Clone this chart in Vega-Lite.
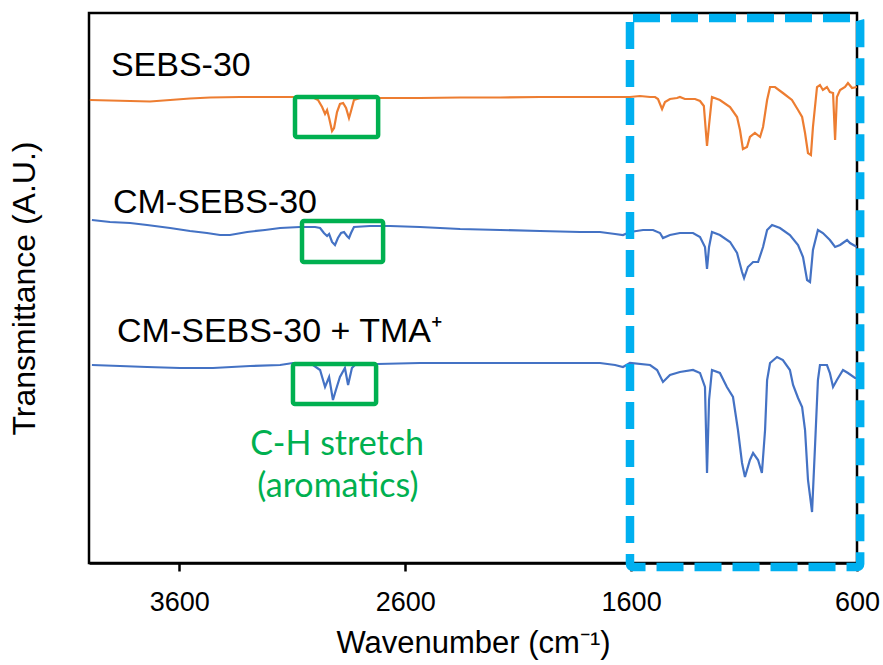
{
 "$schema": "https://vega.github.io/schema/vega-lite/v6.json",
 "width": 768, "height": 550,
 "autosize": {"type": "none"},
 "padding": {"left": 89, "top": 13, "right": 26, "bottom": 102},
 "background": "white",
 "config": {"view": {"stroke": "black", "strokeWidth": 2.5}, "font": "Liberation Sans"},
 "datasets": {
  "spectra": [
   {"s":"SEBS-30","wn":3996,"t":463},{"s":"SEBS-30","wn":3907,"t":462.5},{"s":"SEBS-30","wn":3818,"t":462},{"s":"SEBS-30","wn":3730,"t":461.5},{"s":"SEBS-30","wn":3641,"t":463},{"s":"SEBS-30","wn":3553,"t":464.5},{"s":"SEBS-30","wn":3464,"t":465.5},{"s":"SEBS-30","wn":3331,"t":466},{"s":"SEBS-30","wn":3199,"t":466},{"s":"SEBS-30","wn":3066,"t":466},{"s":"SEBS-30","wn":3008,"t":465.5},{"s":"SEBS-30","wn":2986,"t":463},{"s":"SEBS-30","wn":2968,"t":456},{"s":"SEBS-30","wn":2955,"t":449},{"s":"SEBS-30","wn":2946,"t":453},{"s":"SEBS-30","wn":2937,"t":445},{"s":"SEBS-30","wn":2924,"t":432},{"s":"SEBS-30","wn":2915,"t":435},{"s":"SEBS-30","wn":2902,"t":451},{"s":"SEBS-30","wn":2889,"t":459},{"s":"SEBS-30","wn":2875,"t":460},{"s":"SEBS-30","wn":2862,"t":455},{"s":"SEBS-30","wn":2849,"t":445},{"s":"SEBS-30","wn":2840,"t":452},{"s":"SEBS-30","wn":2827,"t":463},{"s":"SEBS-30","wn":2800,"t":465},{"s":"SEBS-30","wn":2712,"t":465},{"s":"SEBS-30","wn":2535,"t":465},{"s":"SEBS-30","wn":2357,"t":465.5},{"s":"SEBS-30","wn":2180,"t":465.5},{"s":"SEBS-30","wn":2003,"t":466},{"s":"SEBS-30","wn":1826,"t":466},{"s":"SEBS-30","wn":1693,"t":466},{"s":"SEBS-30","wn":1605,"t":466},{"s":"SEBS-30","wn":1561,"t":467},{"s":"SEBS-30","wn":1516,"t":466},{"s":"SEBS-30","wn":1494,"t":466},{"s":"SEBS-30","wn":1481,"t":464},{"s":"SEBS-30","wn":1463,"t":454},{"s":"SEBS-30","wn":1450,"t":461},{"s":"SEBS-30","wn":1428,"t":464},{"s":"SEBS-30","wn":1397,"t":465},{"s":"SEBS-30","wn":1384,"t":466},{"s":"SEBS-30","wn":1362,"t":464},{"s":"SEBS-30","wn":1317,"t":464},{"s":"SEBS-30","wn":1295,"t":462},{"s":"SEBS-30","wn":1278,"t":457},{"s":"SEBS-30","wn":1264,"t":417},{"s":"SEBS-30","wn":1255,"t":438},{"s":"SEBS-30","wn":1242,"t":466},{"s":"SEBS-30","wn":1207,"t":463},{"s":"SEBS-30","wn":1162,"t":456},{"s":"SEBS-30","wn":1131,"t":446},{"s":"SEBS-30","wn":1118,"t":433},{"s":"SEBS-30","wn":1105,"t":414},{"s":"SEBS-30","wn":1087,"t":416},{"s":"SEBS-30","wn":1074,"t":426},{"s":"SEBS-30","wn":1052,"t":430},{"s":"SEBS-30","wn":1029,"t":426},{"s":"SEBS-30","wn":1016,"t":436},{"s":"SEBS-30","wn":998,"t":463},{"s":"SEBS-30","wn":985,"t":476},{"s":"SEBS-30","wn":963,"t":476},{"s":"SEBS-30","wn":928,"t":470},{"s":"SEBS-30","wn":888,"t":463},{"s":"SEBS-30","wn":861,"t":453},{"s":"SEBS-30","wn":843,"t":446},{"s":"SEBS-30","wn":830,"t":430},{"s":"SEBS-30","wn":817,"t":410},{"s":"SEBS-30","wn":804,"t":408},{"s":"SEBS-30","wn":795,"t":436},{"s":"SEBS-30","wn":777,"t":476},{"s":"SEBS-30","wn":764,"t":478},{"s":"SEBS-30","wn":751,"t":473},{"s":"SEBS-30","wn":733,"t":476},{"s":"SEBS-30","wn":720,"t":471},{"s":"SEBS-30","wn":706,"t":470},{"s":"SEBS-30","wn":697,"t":423},{"s":"SEBS-30","wn":689,"t":466},{"s":"SEBS-30","wn":675,"t":473},{"s":"SEBS-30","wn":653,"t":476},{"s":"SEBS-30","wn":640,"t":480},{"s":"SEBS-30","wn":622,"t":475},{"s":"SEBS-30","wn":600,"t":476},
   {"s":"CM-SEBS-30","wn":3987,"t":343},{"s":"CM-SEBS-30","wn":3907,"t":341},{"s":"CM-SEBS-30","wn":3818,"t":340},{"s":"CM-SEBS-30","wn":3743,"t":338},{"s":"CM-SEBS-30","wn":3641,"t":335},{"s":"CM-SEBS-30","wn":3553,"t":332},{"s":"CM-SEBS-30","wn":3478,"t":330},{"s":"CM-SEBS-30","wn":3420,"t":328},{"s":"CM-SEBS-30","wn":3376,"t":328},{"s":"CM-SEBS-30","wn":3300,"t":331},{"s":"CM-SEBS-30","wn":3221,"t":333},{"s":"CM-SEBS-30","wn":3154,"t":335},{"s":"CM-SEBS-30","wn":3066,"t":336},{"s":"CM-SEBS-30","wn":2999,"t":336},{"s":"CM-SEBS-30","wn":2977,"t":335},{"s":"CM-SEBS-30","wn":2960,"t":330},{"s":"CM-SEBS-30","wn":2946,"t":327},{"s":"CM-SEBS-30","wn":2937,"t":329},{"s":"CM-SEBS-30","wn":2924,"t":321},{"s":"CM-SEBS-30","wn":2911,"t":318},{"s":"CM-SEBS-30","wn":2898,"t":325},{"s":"CM-SEBS-30","wn":2884,"t":330},{"s":"CM-SEBS-30","wn":2871,"t":331},{"s":"CM-SEBS-30","wn":2858,"t":327},{"s":"CM-SEBS-30","wn":2849,"t":325},{"s":"CM-SEBS-30","wn":2840,"t":330},{"s":"CM-SEBS-30","wn":2827,"t":336},{"s":"CM-SEBS-30","wn":2756,"t":337},{"s":"CM-SEBS-30","wn":2667,"t":337},{"s":"CM-SEBS-30","wn":2535,"t":336},{"s":"CM-SEBS-30","wn":2357,"t":334},{"s":"CM-SEBS-30","wn":2180,"t":333},{"s":"CM-SEBS-30","wn":2003,"t":332},{"s":"CM-SEBS-30","wn":1826,"t":331},{"s":"CM-SEBS-30","wn":1738,"t":331},{"s":"CM-SEBS-30","wn":1671,"t":329},{"s":"CM-SEBS-30","wn":1636,"t":328},{"s":"CM-SEBS-30","wn":1605,"t":331},{"s":"CM-SEBS-30","wn":1547,"t":333},{"s":"CM-SEBS-30","wn":1503,"t":333},{"s":"CM-SEBS-30","wn":1472,"t":330},{"s":"CM-SEBS-30","wn":1459,"t":325},{"s":"CM-SEBS-30","wn":1428,"t":328},{"s":"CM-SEBS-30","wn":1384,"t":330},{"s":"CM-SEBS-30","wn":1326,"t":330},{"s":"CM-SEBS-30","wn":1295,"t":326},{"s":"CM-SEBS-30","wn":1273,"t":316},{"s":"CM-SEBS-30","wn":1264,"t":294},{"s":"CM-SEBS-30","wn":1255,"t":316},{"s":"CM-SEBS-30","wn":1242,"t":331},{"s":"CM-SEBS-30","wn":1207,"t":328},{"s":"CM-SEBS-30","wn":1162,"t":321},{"s":"CM-SEBS-30","wn":1131,"t":310},{"s":"CM-SEBS-30","wn":1109,"t":291},{"s":"CM-SEBS-30","wn":1100,"t":285},{"s":"CM-SEBS-30","wn":1083,"t":296},{"s":"CM-SEBS-30","wn":1060,"t":301},{"s":"CM-SEBS-30","wn":1038,"t":301},{"s":"CM-SEBS-30","wn":1016,"t":316},{"s":"CM-SEBS-30","wn":998,"t":333},{"s":"CM-SEBS-30","wn":976,"t":338},{"s":"CM-SEBS-30","wn":941,"t":335},{"s":"CM-SEBS-30","wn":897,"t":328},{"s":"CM-SEBS-30","wn":861,"t":318},{"s":"CM-SEBS-30","wn":839,"t":306},{"s":"CM-SEBS-30","wn":821,"t":283},{"s":"CM-SEBS-30","wn":808,"t":281},{"s":"CM-SEBS-30","wn":795,"t":313},{"s":"CM-SEBS-30","wn":773,"t":333},{"s":"CM-SEBS-30","wn":751,"t":330},{"s":"CM-SEBS-30","wn":720,"t":323},{"s":"CM-SEBS-30","wn":697,"t":316},{"s":"CM-SEBS-30","wn":675,"t":318},{"s":"CM-SEBS-30","wn":644,"t":323},{"s":"CM-SEBS-30","wn":631,"t":320},{"s":"CM-SEBS-30","wn":600,"t":316},
   {"s":"TMA","wn":3987,"t":198},{"s":"TMA","wn":3863,"t":197},{"s":"TMA","wn":3743,"t":196},{"s":"TMA","wn":3597,"t":195},{"s":"TMA","wn":3451,"t":195},{"s":"TMA","wn":3287,"t":197},{"s":"TMA","wn":3154,"t":198},{"s":"TMA","wn":3097,"t":200},{"s":"TMA","wn":3008,"t":198},{"s":"TMA","wn":2977,"t":193},{"s":"TMA","wn":2955,"t":176},{"s":"TMA","wn":2937,"t":186},{"s":"TMA","wn":2920,"t":163},{"s":"TMA","wn":2907,"t":173},{"s":"TMA","wn":2889,"t":186},{"s":"TMA","wn":2867,"t":195},{"s":"TMA","wn":2853,"t":178},{"s":"TMA","wn":2836,"t":195},{"s":"TMA","wn":2814,"t":200},{"s":"TMA","wn":2725,"t":199},{"s":"TMA","wn":2535,"t":200},{"s":"TMA","wn":2269,"t":200},{"s":"TMA","wn":2003,"t":200},{"s":"TMA","wn":1738,"t":200},{"s":"TMA","wn":1671,"t":198},{"s":"TMA","wn":1636,"t":196},{"s":"TMA","wn":1605,"t":200},{"s":"TMA","wn":1516,"t":198},{"s":"TMA","wn":1485,"t":193},{"s":"TMA","wn":1459,"t":181},{"s":"TMA","wn":1428,"t":188},{"s":"TMA","wn":1384,"t":191},{"s":"TMA","wn":1326,"t":193},{"s":"TMA","wn":1295,"t":190},{"s":"TMA","wn":1273,"t":176},{"s":"TMA","wn":1264,"t":90},{"s":"TMA","wn":1255,"t":163},{"s":"TMA","wn":1242,"t":193},{"s":"TMA","wn":1207,"t":190},{"s":"TMA","wn":1176,"t":176},{"s":"TMA","wn":1149,"t":166},{"s":"TMA","wn":1127,"t":133},{"s":"TMA","wn":1109,"t":100},{"s":"TMA","wn":1096,"t":86},{"s":"TMA","wn":1074,"t":103},{"s":"TMA","wn":1060,"t":110},{"s":"TMA","wn":1038,"t":103},{"s":"TMA","wn":1021,"t":90},{"s":"TMA","wn":1007,"t":133},{"s":"TMA","wn":998,"t":183},{"s":"TMA","wn":985,"t":200},{"s":"TMA","wn":954,"t":206},{"s":"TMA","wn":928,"t":203},{"s":"TMA","wn":897,"t":193},{"s":"TMA","wn":883,"t":178},{"s":"TMA","wn":861,"t":165},{"s":"TMA","wn":843,"t":156},{"s":"TMA","wn":830,"t":133},{"s":"TMA","wn":817,"t":83},{"s":"TMA","wn":799,"t":51},{"s":"TMA","wn":786,"t":116},{"s":"TMA","wn":773,"t":183},{"s":"TMA","wn":764,"t":198},{"s":"TMA","wn":733,"t":198},{"s":"TMA","wn":720,"t":190},{"s":"TMA","wn":706,"t":176},{"s":"TMA","wn":689,"t":183},{"s":"TMA","wn":662,"t":193},{"s":"TMA","wn":640,"t":190},{"s":"TMA","wn":609,"t":185},{"s":"TMA","wn":600,"t":185}
  ],
  "boxes": [
   {"x1":3088,"x2":2720,"y1":466,"y2":426},
   {"x1":3057,"x2":2698,"y1":342,"y2":301},
   {"x1":3097,"x2":2729,"y1":199,"y2":159}
  ],
  "region": [{"x1":1605,"x2":586,"y1":545,"y2":-4}],
  "names": [
   {"label":"SEBS-30","wn":3903,"t":487},
   {"label":"CM-SEBS-30","wn":3894,"t":350},
   {"label":"CM-SEBS-30 + TMA⁺","wn":3876,"t":221}
  ],
  "notes": [
   {"label":"C-H stretch","wn":2902,"t":108},
   {"label":"(aromatics)","wn":2898,"t":66}
  ]
 },
 "layer": [
  {
   "data": {"name": "spectra"},
   "mark": {"type": "line", "strokeWidth": 2.2, "clip": true},
   "encoding": {
    "x": {"field": "wn", "type": "quantitative",
     "scale": {"domain": [600, 4000], "reverse": true, "nice": false, "zero": false},
     "axis": {"title": "Wavenumber (cm⁻¹)", "values": [3600, 2600, 1600, 600], "format": "d", "grid": false,
      "labelFontSize": 27, "titleFontSize": 31, "titleFontWeight": "normal", "labelColor": "black", "titleColor": "black",
      "tickSize": 8, "tickWidth": 2.5, "tickColor": "black", "domainColor": "black", "domainWidth": 2.5,
      "labelPadding": 18, "titlePadding": 13, "labelFlush": false, "labelOverlap": false}},
    "y": {"field": "t", "type": "quantitative",
     "scale": {"domain": [0, 550], "nice": false, "zero": false},
     "axis": {"title": "Transmittance (A.U.)", "labels": false, "ticks": false, "domain": false, "grid": false,
      "titleFontSize": 32, "titleFontWeight": "normal", "titleColor": "black", "titlePadding": 48}},
    "color": {"field": "s", "type": "nominal",
     "scale": {"domain": ["SEBS-30", "CM-SEBS-30", "TMA"], "range": ["#ED7D31", "#4472C4", "#4472C4"]},
     "legend": null}
   }
  },
  {
   "data": {"name": "boxes"},
   "mark": {"type": "rect", "fill": "transparent", "stroke": "#00B050", "strokeWidth": 4.5, "cornerRadius": 2},
   "encoding": {
    "x": {"field": "x1", "type": "quantitative"}, "x2": {"field": "x2"},
    "y": {"field": "y1", "type": "quantitative"}, "y2": {"field": "y2"}
   }
  },
  {
   "data": {"name": "region"},
   "mark": {"type": "rect", "fill": "transparent", "stroke": "#00B0F0", "strokeWidth": 8.5, "strokeDash": [27, 11], "clip": false, "cornerRadius": 3},
   "encoding": {
    "x": {"field": "x1", "type": "quantitative"}, "x2": {"field": "x2"},
    "y": {"field": "y1", "type": "quantitative"}, "y2": {"field": "y2"}
   }
  },
  {
   "data": {"name": "names"},
   "mark": {"type": "text", "align": "left", "baseline": "alphabetic", "fontSize": 34, "font": "Liberation Sans", "color": "black"},
   "encoding": {
    "x": {"field": "wn", "type": "quantitative"},
    "y": {"field": "t", "type": "quantitative"},
    "text": {"field": "label"}
   }
  },
  {
   "data": {"name": "notes"},
   "mark": {"type": "text", "align": "center", "baseline": "alphabetic", "fontSize": 34, "font": "Lato", "color": "#00B050"},
   "encoding": {
    "x": {"field": "wn", "type": "quantitative"},
    "y": {"field": "t", "type": "quantitative"},
    "text": {"field": "label"}
   }
  }
 ]
}
